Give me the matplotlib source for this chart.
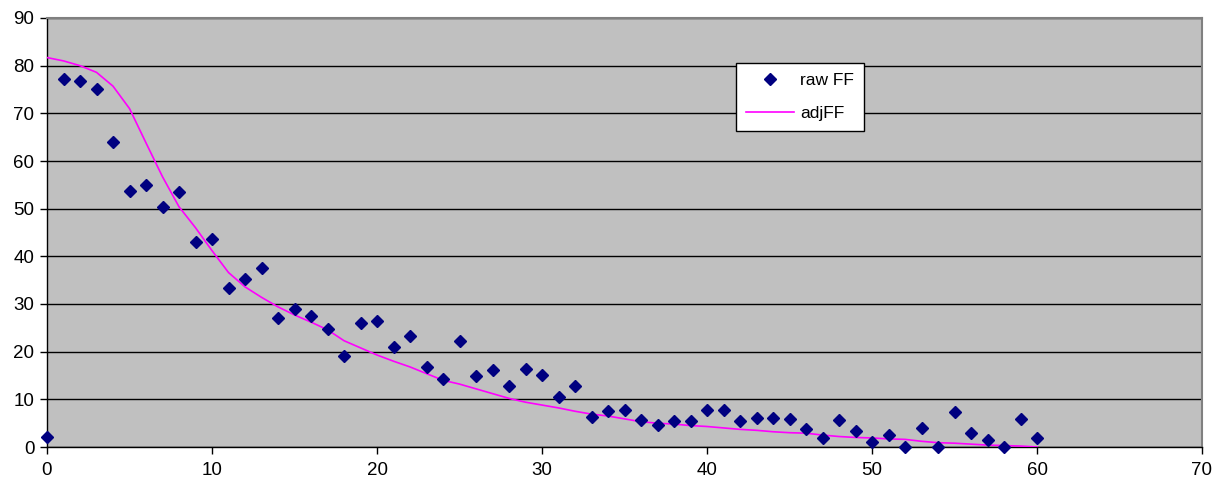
import matplotlib
matplotlib.use("Agg")
import matplotlib.pyplot as plt
from matplotlib.ticker import MultipleLocator

plt.rcParams['font.family'] = ['Liberation Sans', 'DejaVu Sans']

days = list(range(0, 61))

raw_ff = [2.1, 77.3, 76.8, 75.0, 64.0, 53.8, 55.0, 50.4, 53.5, 43.0,
          43.6, 33.4, 35.3, 37.6, 27.1, 29.0, 27.5, 24.8, 19.1, 26.0,
          26.4, 21.0, 23.3, 16.8, 14.3, 22.2, 14.9, 16.2, 12.8, 16.4,
          15.1, 10.5, 12.8, 6.3, 7.6, 7.8, 5.7, 4.6, 5.5, 5.5,
          7.8, 7.8, 5.5, 6.1, 6.1, 5.9, 3.8, 1.9, 5.7, 3.4,
          1.1, 2.5, 0.0, 4.0, 0.0, 7.3, 2.9, 1.5, 0.0, 5.9,
          1.9]

adj_ff = [81.7, 81.0, 80.0, 78.6, 75.7, 71.0, 63.8, 56.7, 50.4, 46.0,
          41.2, 36.6, 33.6, 31.4, 29.4, 27.7, 26.2, 24.6, 22.3, 20.8,
          19.3, 18.0, 16.8, 15.4, 14.0, 13.2, 12.2, 11.2, 10.2, 9.4,
          8.8, 8.2, 7.5, 6.9, 6.5, 5.9, 5.3, 5.0, 4.8, 4.5,
          4.3, 4.0, 3.7, 3.5, 3.2, 3.0, 2.9, 2.5, 2.2, 2.0,
          1.9, 1.7, 1.6, 1.2, 0.9, 0.8, 0.6, 0.4, 0.3, 0.2,
          0.0]

W, H = 1215, 486
fig = plt.figure(figsize=(W / 100, H / 100), dpi=100)
left, right, top, bottom = 47, 1202, 18, 447
ax = fig.add_axes([left / W, 1 - bottom / H, (right - left) / W, (bottom - top) / H])
ax.set_facecolor('#C0C0C0')

ax.set_xlim(0, 70)
ax.set_ylim(0, 90)
ax.xaxis.set_major_locator(MultipleLocator(10))
ax.yaxis.set_major_locator(MultipleLocator(10))

ax.grid(axis='y', color='black', linewidth=1.0)
ax.set_axisbelow(True)

line_adj, = ax.plot(days, adj_ff, color='#FF00FF', linewidth=1.2, label='adjFF', zorder=3)
pts_raw, = ax.plot(days, raw_ff, linestyle='none', marker='D', markersize=6.3,
                   color='#000080', label='raw FF', zorder=4, clip_on=False)

for side in ('top', 'right'):
    ax.spines[side].set_color('#808080')
    ax.spines[side].set_linewidth(1.5)
for side in ('left', 'bottom'):
    ax.spines[side].set_color('black')
    ax.spines[side].set_linewidth(1.0)

ax.tick_params(axis='both', direction='out', length=5, width=1, color='black',
               labelsize=13.5, labelcolor='black')
ax.tick_params(axis='x', pad=6)
ax.tick_params(axis='y', pad=4)

leg = ax.legend([pts_raw, line_adj], ['raw FF', 'adjFF'],
                loc='upper left',
                bbox_to_anchor=((736 - left) / (right - left), (bottom - 63) / (bottom - top)),
                fancybox=False, framealpha=1, edgecolor='black', fontsize=12.5,
                handlelength=2.8, borderpad=0.55, labelspacing=1.05, handletextpad=0.35,
                borderaxespad=0)
leg.get_frame().set_linewidth(1.0)

fig.savefig('out.png', dpi=100, facecolor='white')
